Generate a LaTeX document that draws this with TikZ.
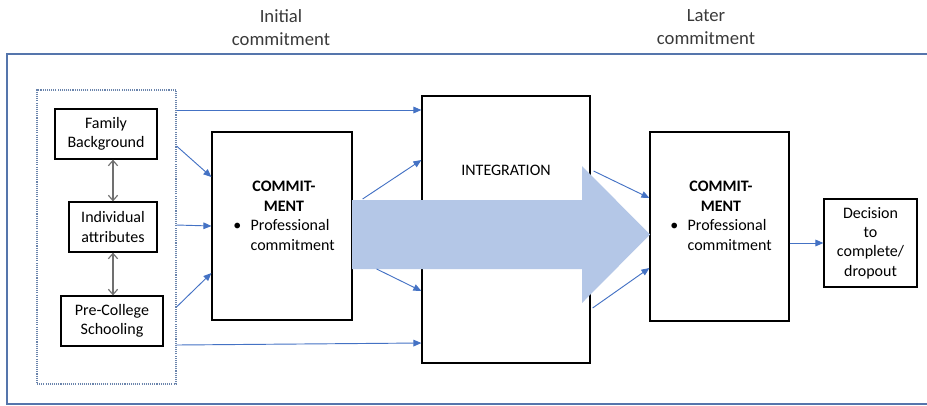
\documentclass[tikz,border=0pt]{standalone}
\usepackage{fontspec}
\setmainfont{Carlito}
\usetikzlibrary{arrows.meta,calc}

\definecolor{linkblue}{HTML}{4472C4}
\definecolor{flowfill}{HTML}{B4C7E7}
\definecolor{framecol}{HTML}{5575AC}
\definecolor{groupcol}{HTML}{6A84AC}
\definecolor{pairgray}{HTML}{707070}
\definecolor{headcol}{HTML}{3A3A3A}

\newcommand{\bodysize}{\fontsize{12pt}{14.6pt}\selectfont}
\newcommand{\headsize}{\fontsize{14pt}{17.3pt}\selectfont}

% commitment box content: bold heading and a bulleted item
\newcommand{\commitcontent}{%
  \begin{tabular}{@{}c@{\hspace{7pt}}l@{}}
    \multicolumn{2}{c}{\bfseries COMMIT-}\\
    \multicolumn{2}{c}{\bfseries MENT}\\
    \textbullet & Professional\\
                & commitment
  \end{tabular}}

\begin{document}
\begin{tikzpicture}[x=0.75pt,y=-0.75pt,
  rect/.style 2 args={minimum width=#1*0.75pt,minimum height=#2*0.75pt},
  box/.style={draw=black,line width=0.9pt,fill=white,inner sep=0pt,
              align=center,font=\bodysize},
  grp/.style={draw=groupcol,line width=0.8pt,dash pattern=on 0.8pt off 0.8pt,
              inner sep=0pt},
  heading/.style={align=center,font=\headsize,text=headcol},
  link/.style={draw=linkblue,line width=0.7pt,
               -{Triangle[length=6pt,width=5pt]}},
  pair/.style={draw=pairgray,line width=0.85pt,
               {Straight Barb[length=4pt,width=7pt]}-{Straight Barb[length=4pt,width=7pt]}}
]
\useasboundingbox (0,0) rectangle (927,405);

% outer frame (right side runs past the page edge)
\draw[framecol,line width=1pt] (935,54) -- (7,54) -- (7,404) -- (935,404);

% column headings
\node[heading] (hinit)  at (281,27.5) {Initial\\commitment};
\node[heading] (hlater) at (706,27.5) {Later\\commitment};

% background factors
\node[grp,rect={139}{294}] (group) at (106.5,237) {};
\node[box,rect={102}{50}] (famb)  at (106,134) {Family\\Background};
\node[box,rect={88}{50}]  (indiv) at (113,227) {Individual\\attributes};
\node[box,rect={102}{50}] (preco) at (112,321) {Pre-College\\Schooling};

\draw[pair] (famb.south -| indiv.north) -- (indiv.north);
\draw[pair] (indiv.south) -- (indiv.south |- preco.north);

% main stages
\node[box,rect={140}{188}] (c1)    at (282,226)   {};
\node[box,rect={168}{267}] (integ) at (506,229.5) {};
\node[box,rect={139}{189}] (c2)    at (719.5,226.5) {};
\node[box,rect={93}{88}]   (decis) at (870.5,243) {Decision\\to\\complete/\\dropout};

% broad flow arrow through the integration stage
\fill[flowfill] (352,200) -- (582,200) -- (582,166) -- (650,234.5)
  -- (582,303) -- (582,269) -- (352,269) -- cycle;

\node[font=\bodysize] (integlbl) at (506,170) {INTEGRATION};
\node[font=\bodysize,inner sep=0pt] (c1txt) at (284,217) {\commitcontent};
\node[font=\bodysize,inner sep=0pt] (c2txt) at (721,217) {\commitcontent};

% thin connectors
\draw[link] (group.east |- 0,110) -- (integ.west |- 0,110);
\draw[link] (group.east |- 0,146) -- (c1.west |- 0,177);
\draw[link] (group.east |- 0,225) -- (c1.west |- 0,226);
\draw[link] (group.east |- 0,307) -- (c1.west |- 0,273);
\draw[link] (group.east |- 0,345) -- (integ.west |- 0,343);
\draw[link] ($(c1.east)+(10,-27)$) -- (integ.west |- 0,160);
\draw[link] ($(c1.east)+(24,43)$)  -- (integ.west |- 0,291);
\draw[link] ($(integ.east)+(3,-58.5)$) -- (c2.west |- 0,198);
\draw[link] ($(integ.east)+(2,78.5)$)  -- (c2.west |- 0,268);
\draw[link] (c2.east |- decis.west) -- (decis.west);
\end{tikzpicture}
\end{document}
